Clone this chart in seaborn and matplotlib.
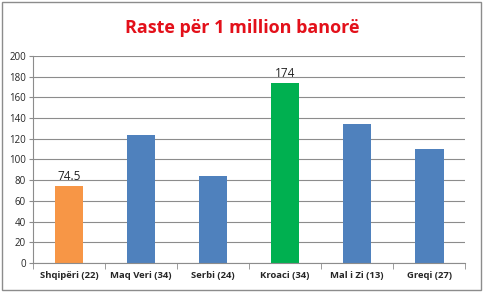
import pandas as pd
import matplotlib.pyplot as plt
import seaborn as sns
from matplotlib.patches import Rectangle

sns.set_style("white")
plt.rcParams['font.family'] = ['Open Sans', 'DejaVu Sans']

# Data
countries = ['Shqipëri (22)', 'Maq Veri (34)', 'Serbi (24)', 'Kroaci (34)', 'Mal i Zi (13)', 'Greqi (27)']
cases = [74.5, 124, 84, 174, 134, 110]
colors = ['#F79646', '#4F81BD', '#4F81BD', '#00B050', '#4F81BD', '#4F81BD']
labelled = {'Shqipëri (22)': '74.5', 'Kroaci (34)': '174'}

df = pd.DataFrame({'country': countries, 'cases': cases})

fig = plt.figure(figsize=(4.85, 2.96), dpi=100)
ax = fig.add_axes([0.068, 0.1115, 0.891, 0.6995])

sns.barplot(data=df, x='country', y='cases', hue='country',
            palette=dict(zip(countries, colors)), legend=False,
            width=0.4, saturation=1, linewidth=0, ax=ax)

# Value labels
for i, (c, v) in enumerate(zip(countries, cases)):
    if c in labelled:
        ax.text(i, v + 3, labelled[c], ha='center', va='bottom', fontsize=8.5, color='#222222')

ax.set_ylim(0, 200)
ax.set_xlim(-0.5, len(countries) - 0.5)
ax.set_yticks(range(0, 201, 20))
ax.yaxis.grid(True, color='#8c8c8c', linewidth=0.8)
ax.set_axisbelow(True)
ax.set_xlabel('')
ax.set_ylabel('')

for s in ['top', 'right']:
    ax.spines[s].set_visible(False)
for s in ['left', 'bottom']:
    ax.spines[s].set_color('#8c8c8c')
    ax.spines[s].set_linewidth(0.8)

ax.tick_params(axis='y', length=3, color='#8c8c8c', labelsize=7, pad=2, left=True)
ax.tick_params(axis='x', which='major', length=0, labelsize=6.8, pad=6)
ax.set_xticks([i - 0.5 for i in range(len(countries) + 1)], minor=True)
ax.tick_params(axis='x', which='minor', length=4, color='#8c8c8c', bottom=True)
for lbl in ax.get_xticklabels():
    lbl.set_fontweight('bold')

fig.text(0.5, 0.905, 'Raste për 1 million banorë', ha='center', va='center',
         fontsize=13, fontweight='bold', color='#E3101A')

# Outer chart frame
fig.patches.append(Rectangle((0.004, 0.02), 0.988, 0.972, transform=fig.transFigure,
                             fill=False, edgecolor='#8c8c8c', linewidth=1))

fig.savefig('out.png', dpi=100)
